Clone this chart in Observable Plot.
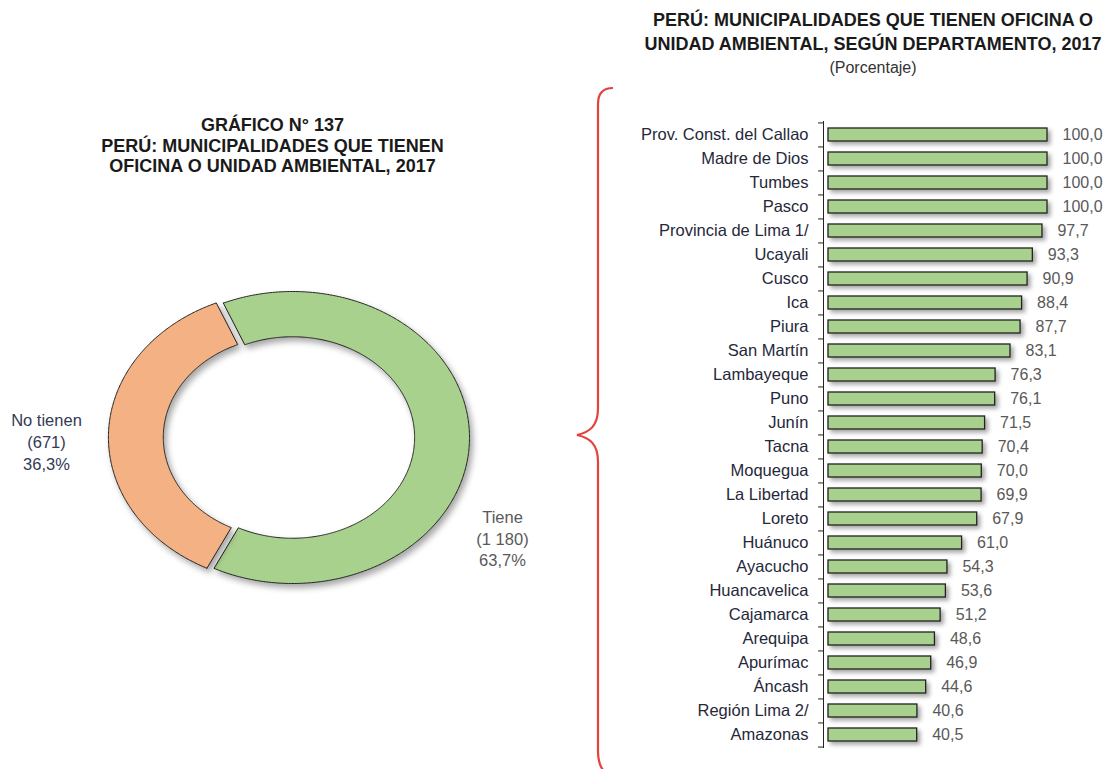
<!DOCTYPE html>
<html>
<head>
<meta charset="utf-8">
<script src="https://cdn.jsdelivr.net/npm/d3@7"></script>
<script src="https://cdn.jsdelivr.net/npm/@observablehq/plot@0.6"></script>
<style>
  body { margin: 0; background: #fff; font-family: "Liberation Sans", Arial, sans-serif; }
  #wrap { position: relative; width: 1109px; height: 769px; overflow: hidden; background: #fff; }
  .abs { position: absolute; }
  .title { font-weight: bold; font-size: 18px; color: #1a1a1a; text-align: center; white-space: nowrap; }
  #donut svg g[aria-label="line"] path { filter: drop-shadow(3px 4px 3px rgba(0,0,0,0.35)); }
  #bars svg g[aria-label="bar"] rect { filter: drop-shadow(3px 3px 2px rgba(0,0,0,0.35)); }
</style>
</head>
<body>
<div id="wrap">
  <div class="abs title" style="left:40px; top:115px; width:465px; line-height:20.5px;">
    GRÁFICO N° 137<br>PERÚ: MUNICIPALIDADES QUE TIENEN<br>OFICINA O UNIDAD AMBIENTAL, 2017
  </div>
  <div id="donut" class="abs" style="left:0; top:0;"></div>
  <div class="abs title" style="left:620px; top:9px; width:506px; line-height:23.5px;">
    PERÚ: MUNICIPALIDADES QUE TIENEN OFICINA O<br>UNIDAD AMBIENTAL, SEGÚN DEPARTAMENTO, 2017<br>
    <span style="font-weight:normal; font-size:16px; color:#333;">(Porcentaje)</span>
  </div>
  <svg class="abs" style="left:0; top:0;" width="1109" height="769">
    <path d="M 613 88 C 603 88, 598 93, 598 104 L 598 408 C 598 426, 590 432, 577 435 C 590 438, 598 444, 598 462 L 598 752 C 598 761, 600 766, 603 770"
          fill="none" stroke="#e5413d" stroke-width="2.2"/>
  </svg>
  <div id="bars" class="abs" style="left:600px; top:0;"></div>
</div>
<script>
// ---- Donut data ----
const donutLabels = ["Tiene", "No tienen"];
const donutCounts = [1180, 671];
const donutPercents = [63.7, 36.3];

// ---- Bar data ----
const departments = [
  "Prov. Const. del Callao", "Madre de Dios", "Tumbes", "Pasco", "Provincia de Lima 1/",
  "Ucayali", "Cusco", "Ica", "Piura", "San Martín", "Lambayeque", "Puno", "Junín",
  "Tacna", "Moquegua", "La Libertad", "Loreto", "Huánuco", "Ayacucho", "Huancavelica",
  "Cajamarca", "Arequipa", "Apurímac", "Áncash", "Región Lima 2/", "Amazonas"
];
const percents = [
  100.0, 100.0, 100.0, 100.0, 97.7,
  93.3, 90.9, 88.4, 87.7, 83.1, 76.3, 76.1, 71.5,
  70.4, 70.0, 69.9, 67.9, 61.0, 54.3, 53.6,
  51.2, 48.6, 46.9, 44.6, 40.6, 40.5
];

const commaFmt = v => v.toFixed(1).replace(".", ",");
const countFmt = d3.formatLocale({decimal: ",", thousands: " ", grouping: [3], currency: ["", ""]}).format(",");

// ---- Donut geometry (computed from values) ----
const startDeg = -23;
const innerR = 0.69;
const explode = [0, 0.04];
const sliceColors = ["#a9d18e", "#f4b183"];
const labelDeg = [120, 269];
const labelR = [1.37, 1.39];
const labelColors = ["#595959", "#333a55"];
const pie = d3.pie().sort(null)
  .startAngle(startDeg * Math.PI / 180)
  .endAngle((startDeg + 360) * Math.PI / 180)(donutPercents);

const slices = pie.map((p, i) => {
  const mid = (p.startAngle + p.endAngle) / 2;
  const ox = explode[i] * Math.sin(mid), oy = explode[i] * Math.cos(mid);
  const n = Math.max(8, Math.ceil((p.endAngle - p.startAngle) / (Math.PI / 360)));
  const pts = [];
  for (let k = 0; k <= n; k++) {
    const a = p.startAngle + (p.endAngle - p.startAngle) * k / n;
    pts.push({x: ox + Math.sin(a), y: oy + Math.cos(a)});
  }
  for (let k = n; k >= 0; k--) {
    const a = p.startAngle + (p.endAngle - p.startAngle) * k / n;
    pts.push({x: ox + innerR * Math.sin(a), y: oy + innerR * Math.cos(a)});
  }
  pts.push(pts[0]);
  const la = labelDeg[i] * Math.PI / 180;
  return {
    pts,
    label: {
      x: labelR[i] * Math.sin(la), y: labelR[i] * Math.cos(la),
      text: `${donutLabels[i]}\n(${countFmt(donutCounts[i])})\n${commaFmt(donutPercents[i])}%`,
      color: labelColors[i]
    }
  };
});

const cx = 292, cy = 437, rx = 177, ry = 146, W = 590, H = 769;
const donut = Plot.plot({
  width: W, height: H,
  margin: 0,
  x: {domain: [-cx / rx, (W - cx) / rx], range: [0, W], axis: null},
  y: {domain: [-(H - cy) / ry, cy / ry], range: [H, 0], axis: null},
  style: {fontFamily: "'Liberation Sans', Arial, sans-serif", background: "transparent"},
  marks: [
    ...slices.map((s, i) => Plot.line(s.pts, {x: "x", y: "y", fill: sliceColors[i], stroke: "#222", strokeWidth: 1, curve: "linear"})),
    ...slices.map(s => Plot.text([s.label], {x: "x", y: "y", text: "text", fill: s.label.color, fontSize: 16.5, lineHeight: 1.33}))
  ]
});
document.getElementById("donut").appendChild(donut);

// ---- Bar chart ----
const rows = departments.map((d, i) => ({dept: d, value: percents[i]}));
const BW = 509, BH = 769, mTop = 121, mBot = 21;
const step = (BH - mTop - mBot) / departments.length;
const pxPerUnit = (BW - 228 - 62) / 100;
const axisGap = 5 / pxPerUnit, tickLen = 5 / pxPerUnit;

const bars = Plot.plot({
  width: BW, height: BH,
  marginLeft: 228, marginRight: 62, marginTop: mTop, marginBottom: mBot,
  x: {domain: [0, 100], axis: null},
  y: {domain: departments, paddingInner: 0.46, paddingOuter: 0.23, label: null},
  style: {fontFamily: "'Liberation Sans', Arial, sans-serif", fontSize: "16px", color: "#222", background: "transparent"},
  marks: [
    Plot.axisY({tickSize: 0, tickPadding: 20, fontSize: 16.5, label: null, fill: "#26283a"}),
    Plot.barX(rows, {x: "value", y: "dept", fill: "#a9d18e", stroke: "#222", strokeWidth: 1.3}),
    Plot.ruleX([-axisGap], {stroke: "#222", strokeWidth: 1}),
    Plot.ruleY(departments, {y: d => d, x1: -axisGap - tickLen, x2: -axisGap, dy: -step / 2, stroke: "#222"}),
    Plot.ruleY(departments.slice(-1), {y: d => d, x1: -axisGap - tickLen, x2: -axisGap, dy: step / 2, stroke: "#222"}),
    Plot.text(rows, {x: "value", y: "dept", text: d => commaFmt(d.value), dx: 15, textAnchor: "start", fill: "#595959", fontSize: 16})
  ]
});
document.getElementById("bars").appendChild(bars);
</script>
</body>
</html>
